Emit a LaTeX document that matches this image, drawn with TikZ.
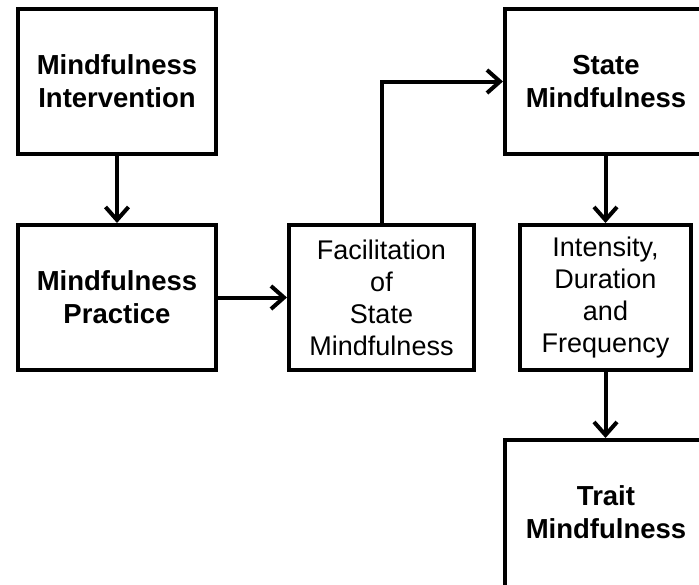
\documentclass[tikz,border=0pt]{standalone}
\usepackage{fontspec}
\setmainfont{Liberation Sans}
\usetikzlibrary{arrows.meta}

\tikzset{
  box/.style={draw=black, line width=4pt, fill=white, inner sep=0pt, align=center,
              font=\fontsize{27pt}{32pt}\selectfont},
  boldbox/.style={box, font=\fontsize{27.5pt}{33pt}\selectfont\bfseries},
  plaintext/.style={inner sep=0pt, align=center,
              font=\fontsize{27.5pt}{33pt}\selectfont\bfseries},
  flow/.style={draw=black, line width=4pt,
               -{Straight Barb[length=13pt,width=23pt,line width=4pt]}},
}

\begin{document}
\begin{tikzpicture}[x=1pt, y=-1pt]
  \useasboundingbox (0,0) rectangle (699,584);
  \clip (0,0) rectangle (699,584);

  % boxes
  \node[boldbox, minimum width=198pt, minimum height=145pt] (interv) at (117,81.5)
    {Mindfulness\\Intervention};
  \node[boldbox, minimum width=198pt, minimum height=145pt] (practice) at (117,297.5)
    {Mindfulness\\Practice};
  \node[box, minimum width=185pt, minimum height=145pt] (facil) at (381.5,297.5)
    {Facilitation\\of\\State\\Mindfulness};
  \node[boldbox, minimum width=202pt, minimum height=145pt] (state) at (606,81.5)
    {State\\Mindfulness};
  \node[box, minimum width=171pt, minimum height=145pt] (idf) at (605.5,297.5)
    {Intensity,\\Duration\\and\\Frequency};
  % the last box runs past the lower edge of the page
  \node[box, minimum width=202pt, minimum height=170pt] (trait) at (606,525) {};
  \node[plaintext] (traittext) at (606,512.5) {Trait\\Mindfulness};

  % connectors
  \draw[flow] (interv) -- (practice);
  \draw[flow] (practice) -- (facil);
  \draw[flow] (facil.north) |- (state.west);
  \draw[flow] (state.south -| idf.north) -- (idf.north);
  \draw[flow] (idf.south) -- (idf.south |- trait.north);
\end{tikzpicture}
\end{document}
